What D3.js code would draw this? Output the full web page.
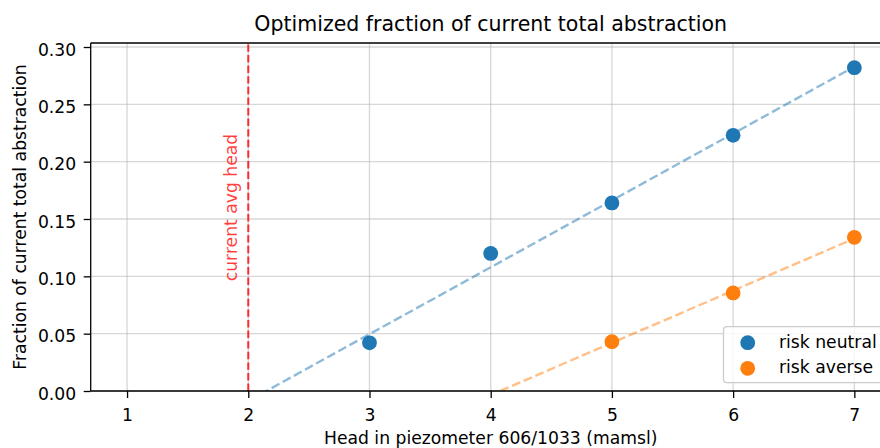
<!DOCTYPE html>
<html>
<head>
<meta charset="utf-8">
<script src="https://cdn.jsdelivr.net/npm/d3@7"></script>
<style>
  html, body { margin: 0; padding: 0; background: #fff; }
  svg { display: block; font-family: "DejaVu Sans", sans-serif; }
</style>
</head>
<body>
<svg id="chart" width="880" height="448"></svg>
<script>
// Head levels (mamsl) and optimized abstraction fractions
const heads = [3, 4, 5, 6, 7];
const riskNeutral = [0.042, 0.120, 0.164, 0.223, 0.282];
const headsAverse = [5, 6, 7];
const riskAverse = [0.043, 0.0855, 0.134];
const currentAvgHead = 2;
const xTicks = [1, 2, 3, 4, 5, 6, 7];
const yTicks = [0.00, 0.05, 0.10, 0.15, 0.20, 0.25, 0.30];

const blue = "#1f77b4", orange = "#ff7f0e";
const FS = 17.2;

const svg = d3.select("#chart");
const margin = { left: 90.7, top: 43, right: -10.7, bottom: 57 };
const W = 880, H = 448;
const x = d3.scaleLinear().domain([0.7, 7.3]).range([margin.left, W - margin.right]);
const y = d3.scaleLinear().domain([0, 0.3035]).range([H - margin.bottom, margin.top]);

svg.append("defs").append("clipPath").attr("id", "plotclip")
  .append("rect")
  .attr("x", x(0.7)).attr("y", y(0.3035))
  .attr("width", x(7.3) - x(0.7)).attr("height", y(0) - y(0.3035));

// grid
const grid = svg.append("g").attr("stroke", "#b0b0b0").attr("stroke-opacity", 0.5).attr("stroke-width", 1.3);
xTicks.forEach(t => grid.append("line").attr("x1", x(t)).attr("x2", x(t)).attr("y1", y(0)).attr("y2", y(0.3035)));
yTicks.forEach(t => grid.append("line").attr("x1", x(0.7)).attr("x2", x(7.3)).attr("y1", y(t)).attr("y2", y(t)));

// least-squares trend line
function fit(xs, ys) {
  const n = xs.length;
  const mx = d3.mean(xs), my = d3.mean(ys);
  let sxy = 0, sxx = 0;
  for (let i = 0; i < n; i++) { sxy += (xs[i] - mx) * (ys[i] - my); sxx += (xs[i] - mx) ** 2; }
  const b = sxy / sxx;
  return v => my + b * (v - mx);
}

const plot = svg.append("g").attr("clip-path", "url(#plotclip)");
const fN = fit(heads, riskNeutral);
const fA = fit(headsAverse, riskAverse);
const line = d3.line().x(d => x(d[0])).y(d => y(d[1]));
[[fN, blue], [fA, orange]].forEach(([f, c]) => {
  plot.append("path")
    .attr("d", line([[1, f(1)], [7, f(7)]]))
    .attr("fill", "none").attr("stroke", c).attr("stroke-opacity", 0.5)
    .attr("stroke-width", 2.4).attr("stroke-dasharray", "8.9,3.8");
});

// current average head marker
plot.append("line")
  .attr("x1", x(currentAvgHead)).attr("x2", x(currentAvgHead))
  .attr("y1", y(0)).attr("y2", y(0.3035))
  .attr("stroke", "red").attr("stroke-opacity", 0.8)
  .attr("stroke-width", 2.0).attr("stroke-dasharray", "7.4,3.2");

svg.append("text")
  .attr("transform", `translate(${x(currentAvgHead) - 11},207.5) rotate(-90)`)
  .attr("text-anchor", "middle")
  .attr("fill", "red").attr("fill-opacity", 0.75)
  .attr("font-size", FS)
  .text("current avg head");

// points
plot.selectAll(".pn").data(heads).join("circle")
  .attr("cx", d => x(d)).attr("cy", (d, i) => y(riskNeutral[i]))
  .attr("r", 7.4).attr("fill", blue);
plot.selectAll(".pa").data(headsAverse).join("circle")
  .attr("cx", d => x(d)).attr("cy", (d, i) => y(riskAverse[i]))
  .attr("r", 7.4).attr("fill", orange);

// axes
const xAxis = d3.axisBottom(x).tickValues(xTicks).tickSize(7).tickPadding(10.5).tickFormat(d3.format("d"));
const yAxis = d3.axisLeft(y).tickValues(yTicks).tickSize(7).tickPadding(7.5).tickFormat(d3.format(".2f"));
const gx = svg.append("g").attr("transform", `translate(0,${y(0)})`).call(xAxis);
const gy = svg.append("g").attr("transform", `translate(${x(0.7)},0)`).call(yAxis);
[gx, gy].forEach(g => {
  g.select(".domain").remove();
  g.selectAll(".tick line").attr("stroke", "#000").attr("stroke-width", 1.3);
  g.selectAll(".tick text").attr("font-size", FS).attr("fill", "#000").attr("font-family", "DejaVu Sans");
});
gy.selectAll(".tick text").attr("dy", "0.48em");

// spines
const sp = svg.append("g").attr("stroke", "#000").attr("stroke-width", 1.3).attr("fill", "none");
sp.append("line").attr("x1", x(0.7)).attr("x2", x(7.3)).attr("y1", y(0)).attr("y2", y(0));
sp.append("line").attr("x1", x(0.7)).attr("x2", x(7.3)).attr("y1", y(0.3035)).attr("y2", y(0.3035));
sp.append("line").attr("x1", x(0.7)).attr("x2", x(0.7)).attr("y1", y(0)).attr("y2", y(0.3035));
sp.append("line").attr("x1", x(7.3)).attr("x2", x(7.3)).attr("y1", y(0)).attr("y2", y(0.3035));

// labels
svg.append("text").attr("x", (x(0.7) + x(7.3)) / 2).attr("y", 30.5)
  .attr("text-anchor", "middle").attr("font-size", 20.5).attr("fill", "#000")
  .text("Optimized fraction of current total abstraction");
svg.append("text").attr("x", (x(0.7) + x(7.3)) / 2).attr("y", 444)
  .attr("text-anchor", "middle").attr("font-size", FS).attr("fill", "#000")
  .text("Head in piezometer 606/1033 (mamsl)");
svg.append("text")
  .attr("transform", `translate(26,${(y(0) + y(0.3035)) / 2}) rotate(-90)`)
  .attr("text-anchor", "middle").attr("font-size", FS).attr("fill", "#000")
  .text("Fraction of current total abstraction");

// legend
const leg = svg.append("g").attr("transform", "translate(723.5,326.7)");
leg.append("rect").attr("width", 175).attr("height", 56).attr("rx", 3)
  .attr("fill", "#fff").attr("fill-opacity", 0.8)
  .attr("stroke", "#ccc").attr("stroke-width", 1.3);
[["risk neutral", blue], ["risk averse", orange]].forEach(([t, c], i) => {
  leg.append("circle").attr("cx", 24.2).attr("cy", 16 + i * 25.6).attr("r", 7.4).attr("fill", c);
  leg.append("text").attr("x", 55.5).attr("y", 21 + i * 25.6)
    .attr("font-size", FS).attr("fill", "#000").text(t);
});
</script>
</body>
</html>
